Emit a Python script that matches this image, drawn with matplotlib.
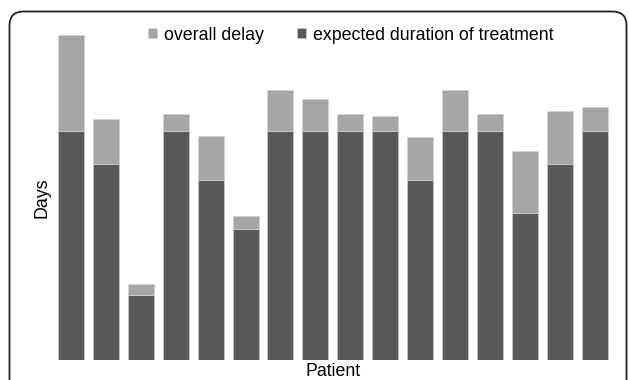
import matplotlib
matplotlib.use("Agg")
import matplotlib.pyplot as plt
from matplotlib.patches import FancyBboxPatch
from matplotlib.transforms import IdentityTransform
import numpy as np

plt.rcParams['font.family'] = ['Liberation Sans', 'DejaVu Sans']

patients = list(range(1, 17))
expected_duration = [42, 36, 12, 42, 33, 24, 42, 42, 42, 42, 33, 42, 42, 27, 36, 42]
overall_delay = [17.7, 8.2, 1.9, 3.2, 8.2, 2.5, 7.6, 5.9, 3.1, 2.8, 8.0, 7.6, 3.2, 11.4, 9.7, 4.5]

W, H = 629, 380
fig = plt.figure(figsize=(W / 100, H / 100), dpi=100)

# axes placed in pixel coordinates
left, right, bottom_px, top_px = 53.55, 612.15, 360, 20
ax = fig.add_axes([left / W, (H - bottom_px) / H, (right - left) / W, (bottom_px - top_px) / H])

x = np.arange(len(patients))
dark = '#595959'
light = '#a6a6a6'
b1 = ax.bar(x, expected_duration, width=0.745, color=dark, edgecolor='#c8c8c8', linewidth=0.5,
            label='expected duration of treatment')
b2 = ax.bar(x, overall_delay, bottom=expected_duration, width=0.745, color=light,
            edgecolor='#d0d0d0', linewidth=0.5, label='overall delay')

ax.set_xlim(-0.5, len(patients) - 0.5)
ax.set_ylim(0, 62.44)
ax.set_xticks([])
ax.set_yticks([])
for s in ax.spines.values():
    s.set_visible(False)
ax.patch.set_alpha(0)

fs = 12.8
fig.text(42.5 / W, 1 - 198 / H, 'Days', rotation=90, ha='center', va='center', fontsize=fs)
fig.text(333 / W, 0.5 / H, 'Patient', ha='center', va='bottom', fontsize=fs)

leg = fig.legend([b2, b1], ['overall delay', 'expected duration of treatment'],
                 loc='center', bbox_to_anchor=(351 / W, 1 - 35 / H), bbox_transform=fig.transFigure,
                 ncol=2, frameon=False, fontsize=fs, handlelength=0.5, handleheight=0.5,
                 handletextpad=0.4, columnspacing=1.85)

# rounded border
box = FancyBboxPatch((9.5, -30), 617, H - 11.5 + 30, boxstyle='round,pad=0,rounding_size=14',
                     transform=IdentityTransform(), facecolor='none', edgecolor='#222222',
                     linewidth=1.3)
fig.patches.append(box)

fig.savefig('out.png', dpi=100)
